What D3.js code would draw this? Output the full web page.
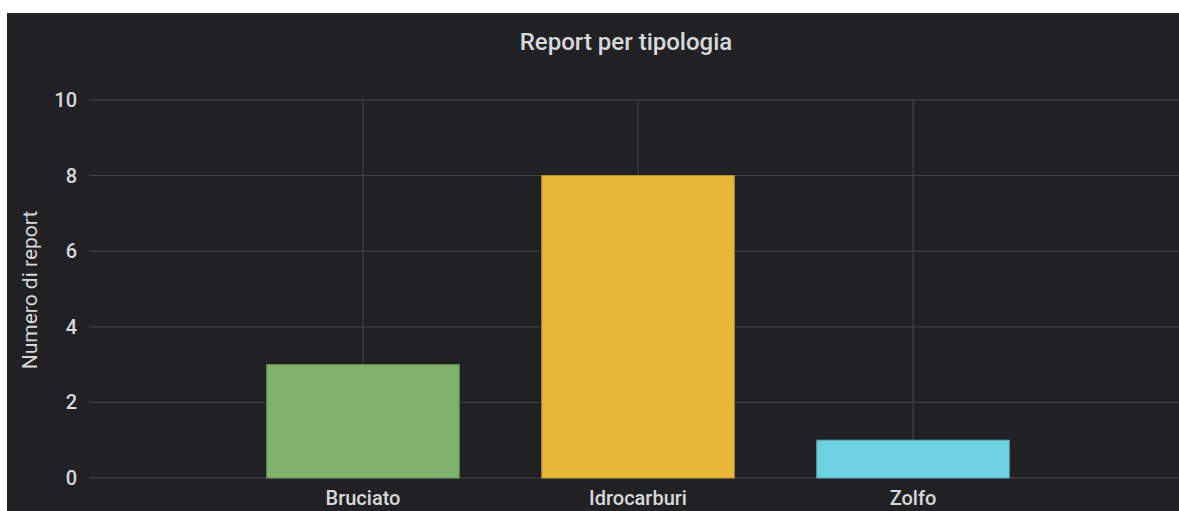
<!DOCTYPE html>
<html>
<head>
<meta charset="utf-8">
<script src="https://cdn.jsdelivr.net/npm/d3@7"></script>
<style>
  body { margin: 0; background: #ffffff; }
  svg { display: block; }
  text { font-family: Roboto, "Noto Sans", sans-serif; }
</style>
</head>
<body>
<svg id="chart" width="1179" height="511"></svg>
<script>
// chart data
const categories = ['Bruciato', 'Idrocarburi', 'Zolfo'];
const reportCounts = [3, 8, 1];
const barColors = ['#7EB26D', '#E8B737', '#6ED0E0'];
const yTicks = [0, 2, 4, 6, 8, 10];

const svg = d3.select('#chart');
const width = +svg.attr('width');
const height = +svg.attr('height');

// dark panel, leaves a thin white strip at top and left
svg.append('rect')
    .attr('x', 7).attr('y', 13)
    .attr('width', width - 7).attr('height', height - 13)
    .attr('fill', '#212124');

const plot = { left: 89, right: 1179, top: 100, bottom: 478 };

// scales
const yScale = d3.scaleLinear().domain([0, 10]).range([plot.bottom, plot.top]);
const xScale = d3.scaleBand().domain(categories)
    .range([225.5, 1050.5]).paddingInner(0.3).paddingOuter(0.15);

// horizontal grid
svg.append('g').selectAll('line').data(yTicks)
    .join('line')
    .attr('x1', plot.left).attr('x2', plot.right)
    .attr('y1', d => yScale(d)).attr('y2', d => yScale(d))
    .attr('stroke', '#464649').attr('stroke-width', 1);

// vertical grid at category centres
svg.append('g').selectAll('line').data(categories)
    .join('line')
    .attr('x1', d => xScale(d) + xScale.bandwidth() / 2)
    .attr('x2', d => xScale(d) + xScale.bandwidth() / 2)
    .attr('y1', plot.top).attr('y2', plot.bottom)
    .attr('stroke', '#464649').attr('stroke-width', 1);

// y tick labels
svg.append('g').selectAll('text').data(yTicks)
    .join('text')
    .attr('x', 77)
    .attr('y', d => yScale(d))
    .attr('dy', '0.35em')
    .attr('text-anchor', 'end')
    .attr('fill', '#d8d9da')
    .attr('font-size', 20)
    .attr('font-weight', 500)
    .text(d => d);

// bars
svg.append('g').selectAll('rect').data(categories)
    .join('rect')
    .attr('x', d => xScale(d))
    .attr('y', (d, i) => yScale(reportCounts[i]))
    .attr('width', xScale.bandwidth())
    .attr('height', (d, i) => yScale(0) - yScale(reportCounts[i]))
    .attr('fill', (d, i) => barColors[i])
    .attr('stroke', (d, i) => d3.color(barColors[i]).darker(0.6))
    .attr('stroke-width', 1);

// category labels
svg.append('g').selectAll('text').data(categories)
    .join('text')
    .attr('x', d => xScale(d) + xScale.bandwidth() / 2)
    .attr('y', 505)
    .attr('text-anchor', 'middle')
    .attr('fill', '#d8d9da')
    .attr('font-size', 20)
    .attr('font-weight', 500)
    .text(d => d);

// title
svg.append('text')
    .attr('x', 626).attr('y', 50)
    .attr('text-anchor', 'middle')
    .attr('fill', '#d8d9da')
    .attr('font-size', 24)
    .attr('font-weight', 500)
    .text('Report per tipologia');

// y axis title
svg.append('text')
    .attr('transform', 'translate(37,290) rotate(-90)')
    .attr('text-anchor', 'middle')
    .attr('fill', '#d8d9da')
    .attr('font-size', 21)
    .text('Numero di report');
</script>
</body>
</html>
